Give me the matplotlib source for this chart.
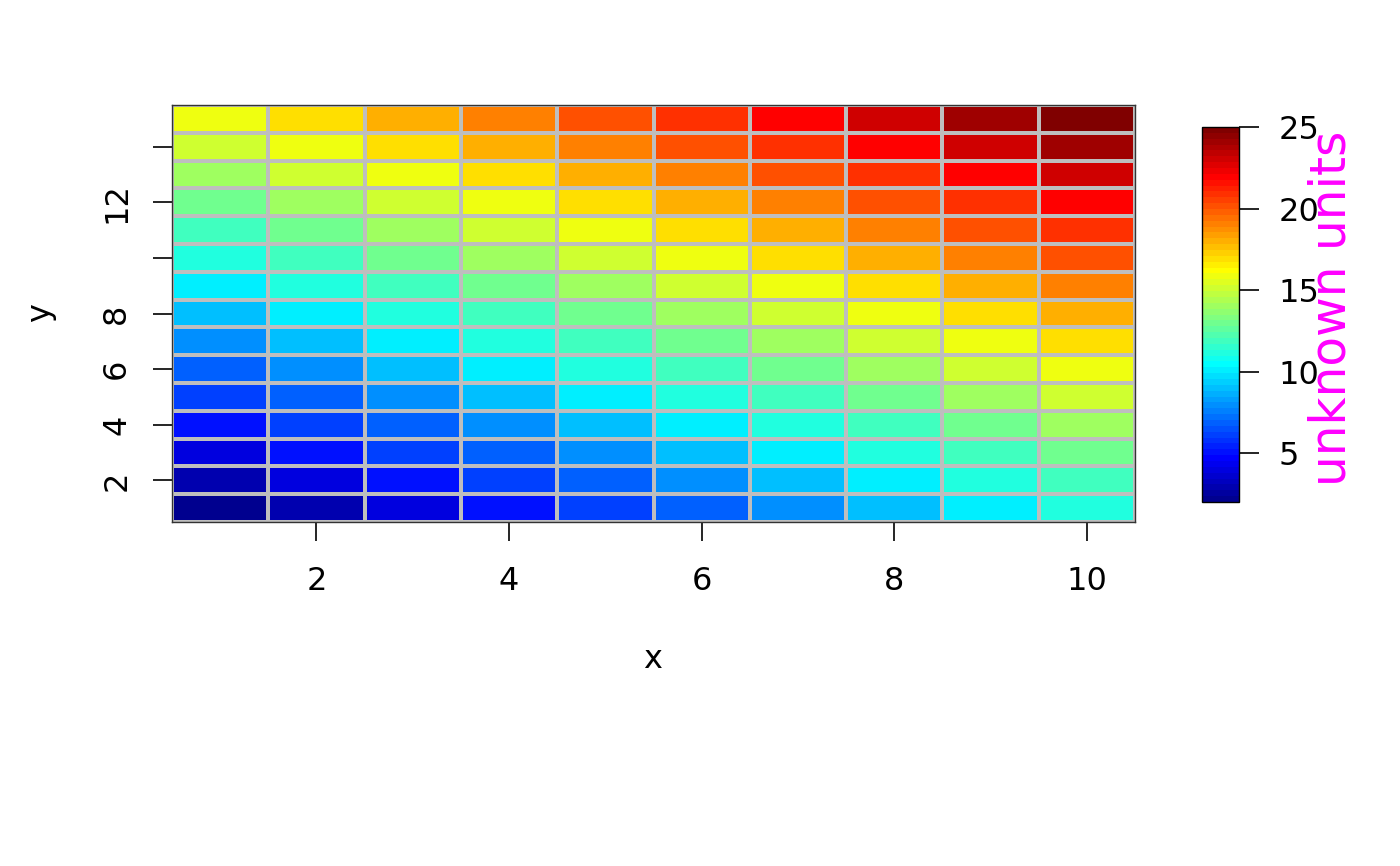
import numpy as np
import matplotlib
matplotlib.use("Agg")
import matplotlib.pyplot as plt
from matplotlib.colors import ListedColormap

# cell centres
x = [1, 2, 3, 4, 5, 6, 7, 8, 9, 10]
y = [1, 2, 3, 4, 5, 6, 7, 8, 9, 10, 11, 12, 13, 14, 15]

# values, one row per y (bottom to top)
z = [
    [2, 3, 4, 5, 6, 7, 8, 9, 10, 11],
    [3, 4, 5, 6, 7, 8, 9, 10, 11, 12],
    [4, 5, 6, 7, 8, 9, 10, 11, 12, 13],
    [5, 6, 7, 8, 9, 10, 11, 12, 13, 14],
    [6, 7, 8, 9, 10, 11, 12, 13, 14, 15],
    [7, 8, 9, 10, 11, 12, 13, 14, 15, 16],
    [8, 9, 10, 11, 12, 13, 14, 15, 16, 17],
    [9, 10, 11, 12, 13, 14, 15, 16, 17, 18],
    [10, 11, 12, 13, 14, 15, 16, 17, 18, 19],
    [11, 12, 13, 14, 15, 16, 17, 18, 19, 20],
    [12, 13, 14, 15, 16, 17, 18, 19, 20, 21],
    [13, 14, 15, 16, 17, 18, 19, 20, 21, 22],
    [14, 15, 16, 17, 18, 19, 20, 21, 22, 23],
    [15, 16, 17, 18, 19, 20, 21, 22, 23, 24],
    [16, 17, 18, 19, 20, 21, 22, 23, 24, 25],
]

xticks = [2, 4, 6, 8, 10]
yticks = [2, 4, 6, 8, 10, 12, 14]
yticklabels = ["2", "4", "6", "8", "", "12", ""]
cbar_ticks = [5, 10, 15, 20, 25]

# 64-step jet palette (tim.colors style)
palette = [
    "#00008F", "#00009F", "#0000AF", "#0000BF", "#0000CF", "#0000DF", "#0000EF", "#0000FF",
    "#0010FF", "#0020FF", "#0030FF", "#0040FF", "#0050FF", "#0060FF", "#0070FF", "#0080FF",
    "#008FFF", "#009FFF", "#00AFFF", "#00BFFF", "#00CFFF", "#00DFFF", "#00EFFF", "#00FFFF",
    "#10FFEF", "#20FFDF", "#30FFCF", "#40FFBF", "#50FFAF", "#60FF9F", "#70FF8F", "#80FF80",
    "#8FFF70", "#9FFF60", "#AFFF50", "#BFFF40", "#CFFF30", "#DFFF20", "#EFFF10", "#FFFF00",
    "#FFEF00", "#FFDF00", "#FFCF00", "#FFBF00", "#FFAF00", "#FF9F00", "#FF8F00", "#FF8000",
    "#FF7000", "#FF6000", "#FF5000", "#FF4000", "#FF3000", "#FF2000", "#FF1000", "#FF0000",
    "#EF0000", "#DF0000", "#CF0000", "#BF0000", "#AF0000", "#9F0000", "#8F0000", "#800000",
]

plt.rcParams["font.family"] = "DejaVu Sans"
W, H = 1400, 866
fig = plt.figure(figsize=(W / 100, H / 100), dpi=100)

ax = fig.add_axes([172 / W, 1 - 522 / H, (1135 - 172) / W, (522 - 105) / H])
cmap = ListedColormap(palette)
zz = np.array(z)
mesh = ax.pcolormesh(x, y, zz, shading="nearest", cmap=cmap,
                     vmin=zz.min(), vmax=zz.max(),
                     edgecolors="#BEBEBE", linewidth=2.8)
ax.set_xlim(0.5, 10.5)
ax.set_ylim(0.5, 15.5)

ax.set_xticks(xticks)
ax.set_yticks(yticks)
ax.set_yticklabels(yticklabels, rotation=90, va="center")
ax.tick_params(axis="both", length=13.7, width=1.2, labelsize=23)
ax.tick_params(axis="x", pad=18)
ax.tick_params(axis="y", pad=15)
for s in ax.spines.values():
    s.set_linewidth(1.0)
    s.set_color("#333333")

fig.text(653 / W, 1 - 660 / H, "x", ha="center", va="center", fontsize=23)
fig.text(41 / W, 1 - 313 / H, "y", ha="center", va="center", fontsize=23,
         rotation=90)

# colour legend
cax = fig.add_axes([1202 / W, 1 - 502 / H, 37 / W, 375 / H])
cb = fig.colorbar(mesh, cax=cax)
cb.set_ticks(cbar_ticks)
cax.tick_params(length=14.4, width=1.2, pad=14, labelsize=23)
cb.outline.set_linewidth(1.0)

fig.text(1332 / W, 1 - 308 / H, "unknown units", rotation=90, color="magenta",
         ha="center", va="center", fontsize=35)

fig.savefig("out.png", dpi=100, facecolor="white")
